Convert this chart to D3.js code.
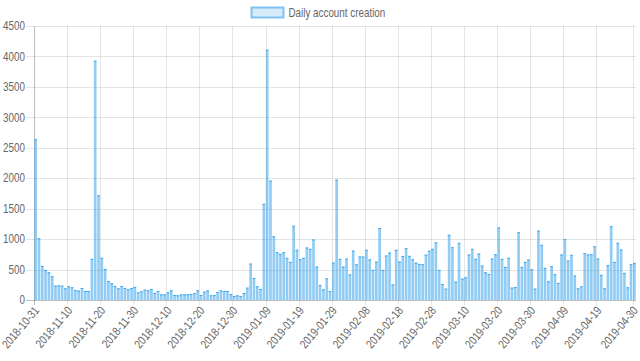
<!DOCTYPE html>
<html>
<head>
<meta charset="utf-8">
<script src="https://cdn.jsdelivr.net/npm/d3@7"></script>
<style>
  body { margin: 0; background: #fff; }
  svg { display: block; font-family: "Liberation Sans", Arial, sans-serif; }
</style>
</head>
<body>
<svg width="640" height="361"></svg>
<script>
var seriesName = "Daily account creation";
var startDay = "2018-10-31";

// one value per day, 2018-10-31 .. 2019-04-30
var accounts = [
  2640, 1015, 560, 494, 456, 390, 236, 242, 236, 192,
  225, 209, 165, 154, 198, 148, 148, 675, 3930, 1720,
  692, 510, 313, 275, 231, 192, 231, 198, 176, 198,
  214, 126, 143, 170, 159, 181, 115, 148, 93, 93,
  126, 159, 82, 77, 93, 93, 93, 99, 115, 159,
  82, 137, 159, 77, 82, 132, 159, 148, 148, 99,
  66, 77, 66, 115, 203, 598, 362, 225, 181, 1580,
  4110, 1960, 1049, 785, 758, 785, 692, 626, 1219, 824,
  670, 692, 862, 840, 994, 549, 247, 176, 357, 148,
  615, 1976, 675, 549, 681, 420, 810, 587, 714, 714,
  824, 666, 494, 631, 1182, 494, 732, 780, 255, 824,
  631, 722, 851, 725, 670, 612, 593, 587, 745, 810,
  840, 947, 494, 264, 187, 1070, 867, 302, 939, 351,
  373, 747, 840, 675, 763, 565, 456, 428, 681, 752,
  1191, 675, 543, 692, 203, 214, 1114, 543, 626, 664,
  505, 187, 1140, 906, 527, 307, 554, 423, 280, 747,
  999, 648, 741, 401, 192, 225, 769, 747, 752, 884,
  681, 412, 192, 571, 1213, 626, 939, 829, 445, 209,
  587, 609
];

var tickLabels = [
  "2018-10-31", "2018-11-10", "2018-11-20", "2018-11-30", "2018-12-10",
  "2018-12-20", "2018-12-30", "2019-01-09", "2019-01-19", "2019-01-29",
  "2019-02-08", "2019-02-18", "2019-02-28", "2019-03-10", "2019-03-20",
  "2019-03-30", "2019-04-09", "2019-04-19", "2019-04-30"
];

var yTicks = [0, 500, 1000, 1500, 2000, 2500, 3000, 3500, 4000, 4500];

var fmt = d3.timeFormat("%Y-%m-%d"),
    parse = d3.timeParse("%Y-%m-%d");

var t0 = parse(startDay);
var data = accounts.map(function(v, i) {
  return {day: fmt(d3.timeDay.offset(t0, i)), num: v};
});

var svg = d3.select("svg"),
    margin = {top: 26, right: 4, bottom: 61, left: 34},
    width = +svg.attr("width") - margin.left - margin.right,
    height = +svg.attr("height") - margin.top - margin.bottom,
    narrow = 0.82; // the original font is a narrow sans

var x = d3.scaleBand()
  .domain(data.map(function(d) { return d.day; }))
  .range([0, width])
  .paddingInner(0.2)
  .paddingOuter(0.1);

var y = d3.scaleLinear()
  .domain([0, 4500])
  .range([height, 0]);

var g = svg.append("g")
  .attr("transform", "translate(" + margin.left + "," + margin.top + ")");

var step = x.step();

// horizontal grid + y ticks
g.selectAll(".hgrid")
  .data(yTicks)
  .enter().append("line")
    .attr("class", "hgrid")
    .attr("x1", -8)
    .attr("x2", width)
    .attr("y1", function(d) { return Math.round(y(d)) + 0.5; })
    .attr("y2", function(d) { return Math.round(y(d)) + 0.5; })
    .style("stroke", function(d) { return d == 0 ? "rgba(0,0,0,0.25)" : "rgba(0,0,0,0.1)"; })
    .style("stroke-width", 1);

g.selectAll(".ylab")
  .data(yTicks)
  .enter().append("text")
    .attr("class", "ylab")
    .attr("transform", function(d) { return "translate(-9," + y(d) + ") scale(" + narrow + ",1)"; })
    .attr("dy", "0.35em")
    .attr("text-anchor", "end")
    .style("font-size", "12px")
    .style("fill", "#666")
    .text(function(d) { return d; });

// vertical grid lines sit on the left edge of labelled days
g.selectAll(".vgrid")
  .data(tickLabels)
  .enter().append("line")
    .attr("class", "vgrid")
    .attr("x1", function(d) { return Math.round(x(d) + x.bandwidth() / 2 - step / 2) + 0.5; })
    .attr("x2", function(d) { return Math.round(x(d) + x.bandwidth() / 2 - step / 2) + 0.5; })
    .attr("y1", 0)
    .attr("y2", height + 5)
    .style("stroke", function(d, i) { return i == 0 ? "rgba(0,0,0,0.25)" : "rgba(0,0,0,0.1)"; })
    .style("stroke-width", 1);

g.selectAll(".xlab")
  .data(tickLabels)
  .enter().append("text")
    .attr("class", "xlab")
    .attr("transform", function(d) {
      return "translate(" + (x(d) + x.bandwidth() / 2 + 1) + "," + (height + 8) + ") rotate(-50) scale(" + narrow + ",1)";
    })
    .attr("dy", "0.35em")
    .attr("text-anchor", "end")
    .style("font-size", "12px")
    .style("fill", "#666")
    .text(function(d) { return d; });

// bars
g.selectAll(".bar")
  .data(data)
  .enter().append("rect")
    .attr("class", "bar")
    .attr("x", function(d) { return x(d.day); })
    .attr("y", function(d) { return y(d.num); })
    .attr("width", x.bandwidth())
    .attr("height", function(d) { return height - y(d.num); })
    .style("fill", "rgba(54,162,235,0.55)");

g.selectAll(".cap")
  .data(data)
  .enter().append("line")
    .attr("class", "cap")
    .attr("x1", function(d) { return x(d.day); })
    .attr("x2", function(d) { return x(d.day) + x.bandwidth(); })
    .attr("y1", function(d) { return y(d.num) + 0.5; })
    .attr("y2", function(d) { return y(d.num) + 0.5; })
    .style("stroke", "rgba(54,162,235,0.9)")
    .style("stroke-width", 1);

// legend
var legend = svg.append("g")
  .attr("transform", "translate(251,7)");

legend.append("rect")
  .attr("x", 0.5)
  .attr("y", 0.5)
  .attr("width", 32)
  .attr("height", 10)
  .style("fill", "rgba(54,162,235,0.2)")
  .style("stroke", "rgba(54,162,235,0.6)")
  .style("stroke-width", 2);

legend.append("text")
  .attr("transform", "translate(37.5,5.5) scale(" + narrow + ",1)")
  .attr("dy", "0.35em")
  .style("font-size", "12px")
  .style("fill", "#666")
  .text(seriesName);
</script>
</body>
</html>
